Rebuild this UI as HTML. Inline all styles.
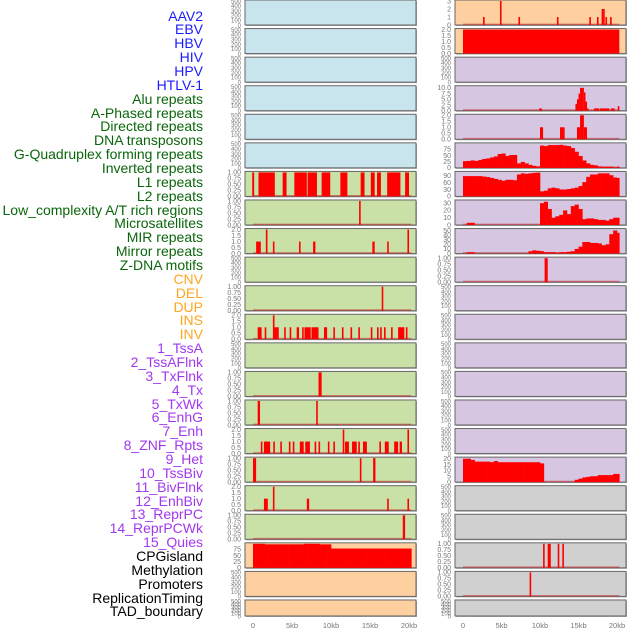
<!DOCTYPE html>
<html><head><meta charset="utf-8">
<style>
body{margin:0;background:#fff;width:630px;height:630px;overflow:hidden;font-family:"Liberation Sans",sans-serif}
#labels{position:absolute;left:0;top:0;width:203px}
.lbl{position:absolute;right:0;font-size:14px;line-height:14px;white-space:nowrap}
svg{position:absolute;left:0;top:0}
</style></head><body>
<div id="labels"></div>
<svg id="chart" width="630" height="630"></svg>
<script>
const trackNames=["AAV2","EBV","HBV","HIV","HPV","HTLV-1","Alu repeats","A-Phased repeats","Directed repeats","DNA transposons","G-Quadruplex forming repeats","Inverted repeats","L1 repeats","L2 repeats","Low_complexity A/T rich regions","Microsatellites","MIR repeats","Mirror repeats","Z-DNA motifs","CNV","DEL","DUP","INS","INV","1_TssA","2_TssAFlnk","3_TxFlnk","4_Tx","5_TxWk","6_EnhG","7_Enh","8_ZNF_Rpts","9_Het","10_TssBiv","11_BivFlnk","12_EnhBiv","13_ReprPC","14_ReprPCWk","15_Quies","CPGisland","Methylation","Promoters","ReplicationTiming","TAD_boundary"];
const trackGroups=[6,13,5,15,5];
const groupColors=["#1c1cff","#0b660b","#ffa51f","#a238ee","#000"];
const xTickLabels=["0","5kb","10kb","15kb","20kb"];
const xTickValues=[0,5,10,15,20];
// area series: values at 0.5kb bins from 0 to 20
const r5Vals=[27,28,30,28,32,36,38,42,46,56,58,48,52,52,18,24,18,12,8,6,90,88,92,92,92,93,90,88,80,65,48,30,18,12,10,6,5,5,5,2,5];
const r6Vals=[88,88,88,88,88,86,84,80,76,72,68,72,72,70,95,100,98,100,102,103,22,25,35,38,35,30,30,32,35,38,45,62,85,95,95,100,100,100,92,82,80];
const r7Vals=[0,3,3,0,0,0,0,0,0,0,0,0,0,0,0,0,0,0,0,0,30,32,22,10,12,14,20,15,26,28,22,8,9,9,8,7,7,6,8,10,10];
const r8Vals=[0,3,3,0,0,0,0,0,0,0,0,0,0,0,0,0,0,5,7,6,5,3,3,3,2,3,3,4,5,10,15,25,25,23,23,22,18,20,42,50,45];
const r16Vals=[20,20,19,17.5,17.5,17.5,17.5,17,18,17,17,17,17,17,17,17,17,17,17,17,16,0,0,0,0,0,0,0,0,2,3,4,4.5,5,5,6,6,6,6,7,7];
const l19Vals=[97,97,97,95,95,95,95,95,95,95,95,95,95,97,97,97,97,95,95,95,78,78,78,78,78,78,78,78,78,78,78,78,78,78,78,78,78,78,78,78,78];
// bar series: [startKb, endKb, value]
const r0Bars=[[2.6,2.8,1],[4.8,5.0,3],[7.2,7.4,1],[12.2,12.4,1],[16.4,16.6,1],[17.4,17.6,1],[18.0,18.15,2],[18.2,18.35,2],[18.5,18.7,1],[19.1,19.3,1]];
const r1Bars=[[0,20.3,2]];
const r3Bars=[[9.9,10.25,1],[14.6,14.8,3],[14.8,15.0,5],[15.0,15.2,7.5],[15.2,15.7,10],[15.7,15.9,8],[15.9,16.1,4],[16.1,16.3,1],[17.0,17.7,1],[17.8,19.0,1],[19.2,19.7,1],[20.1,20.3,2]];
const r4Bars=[[10.0,10.4,1],[12.6,13.2,1],[14.8,15.2,1],[15.2,15.7,2],[15.7,16.1,1]];
const r9Bars=[[10.6,11.0,1]];
const r19Bars=[[10.4,10.6,1],[11.0,11.4,1],[12.3,12.5,1],[12.9,13.1,1]];
const r20Bars=[[8.65,8.8,1]];
const l6Bars=[[-0.1,0.15,1],[0.7,2.8,1],[3.8,4.3,1],[5.3,6.9,1],[7.0,8.2,1],[8.8,9.9,1],[11.2,12.1,1],[13.8,14.3,1],[15.1,15.6,1],[15.9,16.4,1],[17.2,18.9,1],[19.5,20.0,1]];
const l7Bars=[[13.6,13.8,1]];
const l8Bars=[[0.4,1.0,1],[1.65,1.85,2],[2.55,2.75,1],[5.9,6.1,1],[7.7,8.0,1],[15.3,15.6,1],[17.2,17.4,1],[19.8,20.0,2]];
const l10Bars=[[16.5,16.7,1]];
const l11Bars=[[0.6,1.1,1],[1.5,1.7,1],[2.55,2.75,2],[2.75,3.3,1],[4.0,4.2,1],[4.7,4.9,1],[5.6,5.9,1],[6.3,6.5,1],[6.6,7.4,1],[7.5,8.4,1],[9.1,9.5,1],[10.3,10.5,1],[11.4,11.6,1],[12.5,12.7,1],[13.5,13.7,1],[15.1,15.3,1],[15.9,16.1,1],[16.3,16.5,1],[16.8,17.0,1],[17.7,17.9,1],[18.6,19.4,1],[19.6,19.8,1]];
const l13Bars=[[8.4,8.8,1]];
const l14Bars=[[0.6,0.9,1],[8.1,8.3,1]];
const l15Bars=[[1.0,1.2,1],[1.4,2.2,1],[2.6,2.8,1],[3.5,3.7,1],[4.6,4.8,1],[5.1,5.3,1],[6.0,6.5,1],[6.7,7.3,1],[7.9,8.1,1],[8.4,8.6,1],[9.6,9.8,1],[10.3,10.5,1],[11.5,11.7,2],[11.8,12.3,1],[12.7,13.3,1],[13.5,13.7,1],[14.1,14.6,1],[16.2,16.4,1],[16.9,17.4,1],[18.1,18.6,1],[18.8,19.1,1],[19.8,20.0,2]];
const l16Bars=[[0,0.4,1],[13.7,13.9,1],[15.4,15.7,1]];
const l17Bars=[[1.4,1.9,1],[2.55,2.75,2],[6.9,7.2,1],[17.2,17.4,1],[19.8,20.0,1]];
const l18Bars=[[19.2,19.5,1]];

const C={blue:"#c8e4ec",green:"#c9e1a6",orange:"#fed09f",purple:"#d6c6e2",grey:"#d0d0d0"};
const leftPanels=[
["blue","empty"],["blue","empty"],["blue","empty"],["blue","empty"],["blue","empty"],["blue","empty"],
["green","bin",l6Bars],["green","bin",l7Bars],["green","two",l8Bars],["green","empty"],["green","bin",l10Bars],["green","two",l11Bars],["green","empty"],["green","bin",l13Bars],["green","bin",l14Bars],["green","two",l15Bars],["green","bin",l16Bars],["green","two",l17Bars],["green","bin",l18Bars],
["orange","area",l19Vals,97,[0,25,50,75]],["orange","empty"],["orange","empty"]];
const rightPanels=[
["orange","bars",r0Bars,3,[0,1,2,3]],["orange","two",r1Bars],["purple","empty"],["purple","bars",r3Bars,10.5,[0,2.5,5,7.5,10]],["purple","two",r4Bars],
["purple","area",r5Vals,97,[0,25,50,75]],["purple","area",r6Vals,104,[0,30,60,90]],["purple","area",r7Vals,33,[0,10,20,30]],["purple","area",r8Vals,52,[0,10,20,30,40,50]],
["purple","bin",r9Bars],["purple","empty"],["purple","empty"],["purple","empty"],["purple","empty"],["purple","empty"],["purple","empty"],
["purple","area",r16Vals,20.5,[0,5,10,15,20]],["grey","empty"],["grey","empty"],["grey","bin",r19Bars],["grey","bin",r20Bars],["grey","empty"]];

// labels
const lab=document.getElementById('labels');
let gi=0,cnt=0;
trackNames.forEach((n,i)=>{
  while(cnt>=trackGroups[gi]){cnt=0;gi++;}
  cnt++;
  const d=document.createElement('div');
  d.className='lbl';
  
  
  d.style.top=(8.5+i*13.86)+'px';
  d.style.color=groupColors[gi];
  d.textContent=n;
  lab.appendChild(d);
});

const svg=document.getElementById('chart');
const NS="http://www.w3.org/2000/svg";
function mk(tag,attrs,parent){const e=document.createElementNS(NS,tag);for(const k in attrs)e.setAttribute(k,attrs[k]);(parent||svg).appendChild(e);return e;}
function fmt(v,dec){return dec?v.toFixed(dec):String(v);}

function drawPanel(spec,idx,col){
  const px=col===0?245:455, pw=171;
  const x0=col===0?253:463, x20=col===0?409:617;
  const xs=kb=>x0+(x20-x0)*kb/20;
  const top=idx*28.57, h=idx===21?16:25, bot=top+h;
  const g=mk('g',{});
  
  
  svg.appendChild(g);
  mk('rect',{x:px+1,y:top+1,width:pw,height:h,fill:'#aaa'},g);
  mk('rect',{x:px,y:top,width:pw,height:h,fill:C[spec[0]],stroke:'#666','stroke-width':1},g);
  const type=spec[1];
  let ymax,ticks,dec=0;
  if(type==='empty'){ymax=500;ticks=[0,100,200,300,400,500];}
  else if(type==='bin'){ymax=1;ticks=[0,0.25,0.5,0.75,1];dec=2;}
  else if(type==='two'){ymax=2;ticks=[0,0.5,1,1.5,2];dec=1;}
  else {ymax=spec[3];ticks=spec[4];dec=(ticks.some(t=>t%1))?1:0;}
  const ys=v=>bot-(h-1)*Math.min(v,ymax)/ymax;
  ticks.forEach(t=>{
    const tx=mk('text',{x:px-4,y:ys(t)+2.3,'font-size':type==='empty'?6:7,fill:'#777','text-anchor':'end'},g);
    
    
    tx.textContent=fmt(t,dec);
  });
  if(type==='empty')return;
  mk('line',{x1:xs(0),x2:xs(20.3),y1:bot-0.7,y2:bot-0.7,stroke:'rgba(200,40,40,0.55)','stroke-width':1.4},g);
  if(type==='area'){
    spec[2].forEach((v,i)=>{
      if(v<=0)return;
      const a=i*0.5,b=i===40?20.3:i*0.5+0.5;
      const r=mk('rect',{x:xs(a),y:ys(v),width:xs(b)-xs(a)+0.3,height:bot-ys(v),fill:'#ff0000'},g);
      
      
    });
  } else {
    spec[2].forEach(bb=>{
      const w=Math.max(xs(bb[1])-xs(bb[0]),1.6);
      const r=mk('rect',{x:xs(bb[0]),y:ys(bb[2]),width:w,height:bot-ys(bb[2]),fill:'#ff0000'},g);
      
      
    });
  }
}
leftPanels.forEach((s,i)=>drawPanel(s,i,0));
rightPanels.forEach((s,i)=>drawPanel(s,i,1));
[0,1].forEach(col=>{
  const x0=col===0?253:463, x20=col===0?409:617;
  xTickValues.forEach((v,i)=>{
    const t=mk('text',{x:x0+(x20-x0)*v/20,y:628,'font-size':7.5,fill:'#777','text-anchor':'middle'});
    
    
    t.textContent=xTickLabels[i];
  });
});
</script>
</body></html>
